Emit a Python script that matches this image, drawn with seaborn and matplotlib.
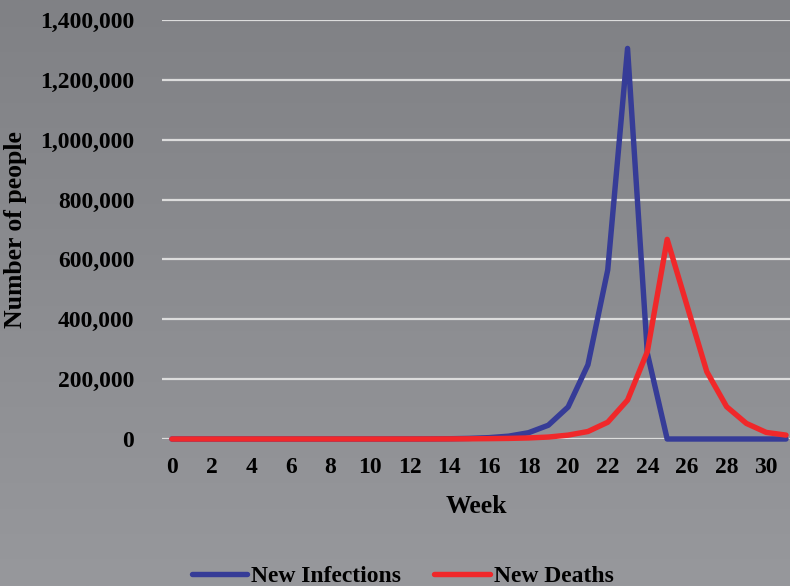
import numpy as np
import pandas as pd
import matplotlib
matplotlib.use("Agg")
import matplotlib.pyplot as plt
import seaborn as sns
from matplotlib.lines import Line2D

weeks = list(range(0, 32))
new_infections = [0, 0, 0, 0, 0, 0, 0, 0, 0, 0, 0, 0, 100, 300, 800, 2000,
                  4500, 9500, 21000, 46000, 107000, 248000, 565000, 1305000,
                  286000, 0, 0, 0, 0, 0, 0, 0]
new_deaths = [0, 0, 0, 0, 0, 0, 0, 0, 0, 0, 0, 0, 0, 100, 300, 600,
              1200, 2000, 3500, 6500, 13000, 25000, 56000, 130000,
              292000, 667000, 446000, 225000, 108000, 52000, 22000, 13000]
series_names = ["New Infections", "New Deaths"]
y_ticks = [0, 200000, 400000, 600000, 800000, 1000000, 1200000, 1400000]
x_ticks = list(range(0, 31, 2))

df = pd.DataFrame({"Week": weeks * 2,
                   "value": new_infections + new_deaths,
                   "series": [series_names[0]] * len(weeks) + [series_names[1]] * len(weeks)})

sns.set_theme(style="white")
plt.rcParams["font.family"] = ["Liberation Serif", "DejaVu Serif"]
plt.rcParams["font.weight"] = "bold"
plt.rcParams["text.color"] = "black"

fig = plt.figure(figsize=(7.9, 5.86), dpi=100)
# gradient background
bg = fig.add_axes([0, 0, 1, 1], zorder=-10)
top = np.array([0x80, 0x81, 0x85]) / 255
bot = np.array([0x97, 0x98, 0x9c]) / 255
t = np.linspace(0, 1, 256)[:, None]
grad = top[None, :] * (1 - t) + bot[None, :] * t
bg.imshow(grad[:, None, :], aspect="auto", extent=[0, 1, 0, 1])
bg.set_axis_off()

ax = fig.add_axes([162 / 790, 1 - 439 / 586, 1 - 162 / 790, (439 - 20) / 586])
ax.patch.set_alpha(0)
palette = {series_names[0]: "#363c97", series_names[1]: "#f0282a"}
lw = 3.9
sns.lineplot(data=df, x="Week", y="value", hue="series", palette=palette,
             linewidth=lw, ax=ax, legend=False, clip_on=False)
for ln in ax.lines:
    ln.set_solid_capstyle("round")
    ln.set_solid_joinstyle("round")
ax.lines[1].set_zorder(3)
ax.lines[0].set_zorder(2.5)

ax.set_xlim(-0.5, 31.2)
ax.set_ylim(0, 1400000)
ax.set_yticks(y_ticks)
ax.set_yticklabels([f"{v:,}" for v in y_ticks])
ax.set_xticks(x_ticks)
ax.grid(axis="y", color="#dcdcdc", linewidth=1.6)
ax.set_axisbelow(True)
for s in ax.spines.values():
    s.set_visible(False)
ax.tick_params(axis="both", length=0, labelsize=17, labelcolor="black")
ax.tick_params(axis="y", pad=20)
ax.tick_params(axis="x", pad=13)
for lab in ax.get_xticklabels() + ax.get_yticklabels():
    lab.set_fontweight("bold")
ax.set_xlabel("Week", fontsize=18.5, fontweight="bold", color="black", labelpad=12)
ax.set_ylabel("Number of people", fontsize=18.5, fontweight="bold", color="black")
ax.yaxis.set_label_coords(-0.215, 0.5)

handles = [Line2D([0], [0], color=palette[n], lw=lw, solid_capstyle="round") for n in series_names]
leg = fig.legend(handles, series_names, loc="center", bbox_to_anchor=(0.51, 0.017),
                 ncol=2, frameon=False, handlelength=2.35, handletextpad=0.17,
                 columnspacing=1.4, labelcolor="black",
                 prop={"family": "Liberation Serif", "weight": "bold", "size": 17})
for txt in leg.get_texts():
    txt.set_fontweight("bold")

fig.savefig("out.png", dpi=100)
